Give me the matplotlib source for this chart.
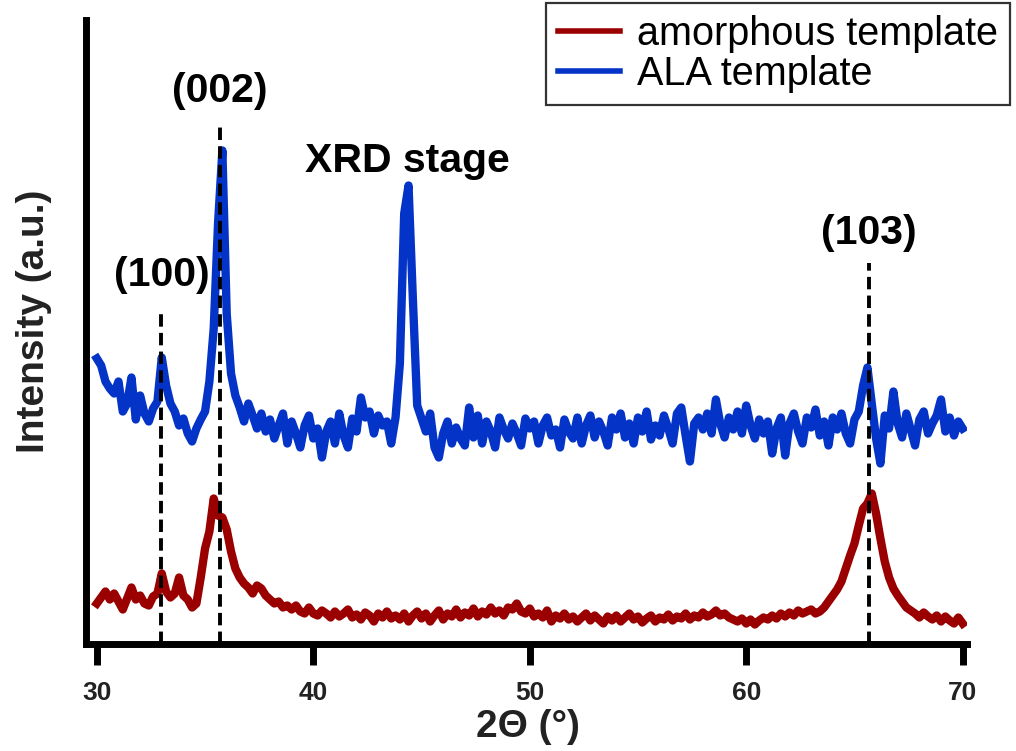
import numpy as np
import matplotlib
matplotlib.use("Agg")
import matplotlib.pyplot as plt

plt.rcParams['font.family'] = ['Liberation Sans', 'DejaVu Sans']

# 2-theta grid, 0.2 deg steps from 30 to 70
two_theta = np.linspace(30, 70, 201)

# amorphous template (a.u.)
amorphous = [
    40, 46, 52, 44, 50, 42, 34, 45, 56, 44,
    48, 40, 38, 47, 50, 70, 52, 46, 50, 66,
    48, 44, 36, 40, 66, 95, 112, 145, 128, 126,
    114, 92, 75, 66, 60, 56, 50, 58, 55, 48,
    44, 40, 42, 36, 38, 34, 38, 32, 30, 36,
    30, 28, 33, 30, 26, 32, 27, 30, 34, 26,
    29, 24, 31, 28, 22, 30, 26, 32, 25, 28,
    24, 30, 22, 28, 32, 25, 30, 22, 28, 33,
    24, 30, 27, 34, 26, 31, 28, 35, 27, 32,
    29, 36, 30, 33, 28, 36, 34, 40, 32, 30,
    35, 27, 30, 26, 33, 22, 28, 25, 30, 24,
    27, 22, 26, 30, 23, 28, 24, 20, 27, 23,
    28, 22, 26, 30, 24, 27, 21, 25, 28, 22,
    26, 24, 29, 23, 27, 25, 30, 24, 28, 26,
    31, 27, 29, 33, 28, 30, 26, 24, 22, 25,
    20, 24, 19, 23, 26, 24, 28, 25, 30, 27,
    31, 28, 33, 30, 32, 34, 30, 32, 36, 42,
    48, 54, 62, 75, 88, 100, 118, 135, 140, 150,
    130, 105, 82, 66, 55, 48, 42, 36, 33, 30,
    26, 31, 27, 24, 28, 22, 27, 23, 20, 26,
    20,
]

# ALA template (a.u.)
ala = [
    285, 278, 262, 255, 250, 262, 232, 240, 266, 224,
    248, 230, 222, 235, 242, 286, 258, 240, 232, 218,
    225, 210, 202, 215, 224, 232, 262, 315, 420, 493,
    330, 270, 248, 236, 222, 240, 228, 215, 230, 212,
    224, 205, 218, 230, 200, 222, 210, 196, 218, 228,
    205, 215, 186, 212, 222, 200, 230, 208, 196, 225,
    212, 246, 226, 232, 210, 228, 218, 222, 200, 226,
    280, 430, 458, 345, 238, 225, 212, 230, 196, 186,
    210, 222, 200, 216, 205, 198, 236, 206, 228, 200,
    222, 212, 196, 226, 214, 205, 220, 210, 198, 225,
    215, 222, 200, 218, 226, 208, 214, 196, 224, 212,
    205, 226, 200, 218, 228, 206, 222, 212, 198, 226,
    214, 230, 206, 220, 200, 226, 212, 232, 204, 218,
    208, 228, 215, 200, 230, 236, 208, 182, 220, 226,
    214, 230, 210, 244, 220, 206, 226, 214, 232, 210,
    238, 218, 205, 224, 210, 222, 190, 215, 226, 188,
    220, 230, 212, 200, 226, 216, 234, 208, 222, 198,
    226, 214, 230, 210, 200, 224, 232, 258, 276, 240,
    205, 180, 228, 215, 252, 220, 206, 230, 214, 198,
    224, 232, 210, 220, 228, 244, 212, 226, 208, 222,
    215,
]

# reflections: label, position, top of the dashed marker
peak_labels = ['(100)', '(002)', '(103)']
peak_pos = [32.98, 35.69, 65.65]
peak_top = [335, 518, 381]
label_y = [368, 552, 411]

fig = plt.figure(figsize=(10.16, 7.51), dpi=100)
ax = fig.add_axes([86/1016, 1-643.5/751, 881/1016, 623.5/751])

ax.plot(two_theta, amorphous, color='#9a0000', lw=6,
        solid_joinstyle='round', label='amorphous template')
ax.plot(two_theta, ala, color='#0433c8', lw=6,
        solid_joinstyle='round', label='ALA template')

for pos, top in zip(peak_pos, peak_top):
    ax.plot([pos, pos], [0, top], color='black', lw=2.8, ls=(0, (3.2, 1.6)))
for lab, pos, yy in zip(peak_labels, peak_pos, label_y):
    ax.text(pos, yy, lab, fontsize=29.5, fontweight='bold', ha='center', va='center')
ax.text(44.35, 483, 'XRD stage', fontsize=29.5, fontweight='bold', ha='center', va='center')

ax.set_xlim(29.5, 70.2)
ax.set_ylim(0, 623.5)
ax.set_xticks([30, 40, 50, 60, 70])
ax.set_yticks([])
ax.tick_params(axis='x', length=15, width=5, pad=12, labelsize=19)
for t in ax.get_xticklabels():
    t.set_fontweight('bold')
    t.set_color('#222222')

for s in ['top', 'right']:
    ax.spines[s].set_visible(False)
for s in ['left', 'bottom']:
    ax.spines[s].set_linewidth(5)

ax.set_xlabel('2Θ (°)', fontsize=28, fontweight='bold', color='#222222', va='center')
ax.xaxis.set_label_coords(0.502, -0.134)
ax.set_ylabel('Intensity (a.u.)', fontsize=28, fontweight='bold', color='#222222', va='center')
ax.yaxis.set_label_coords(-0.059, 0.516)

leg = fig.legend(loc='upper right', bbox_to_anchor=(1010/1016, 1-3/751), fontsize=28.5,
                 frameon=True, fancybox=False, edgecolor='black', handlelength=1.57,
                 handletextpad=0.43, labelspacing=0.06, borderpad=0.3, borderaxespad=0)
leg.get_frame().set_linewidth(1.6)
for h in leg.get_lines():
    h.set_linewidth(4)

fig.savefig('out.png', dpi=100)
